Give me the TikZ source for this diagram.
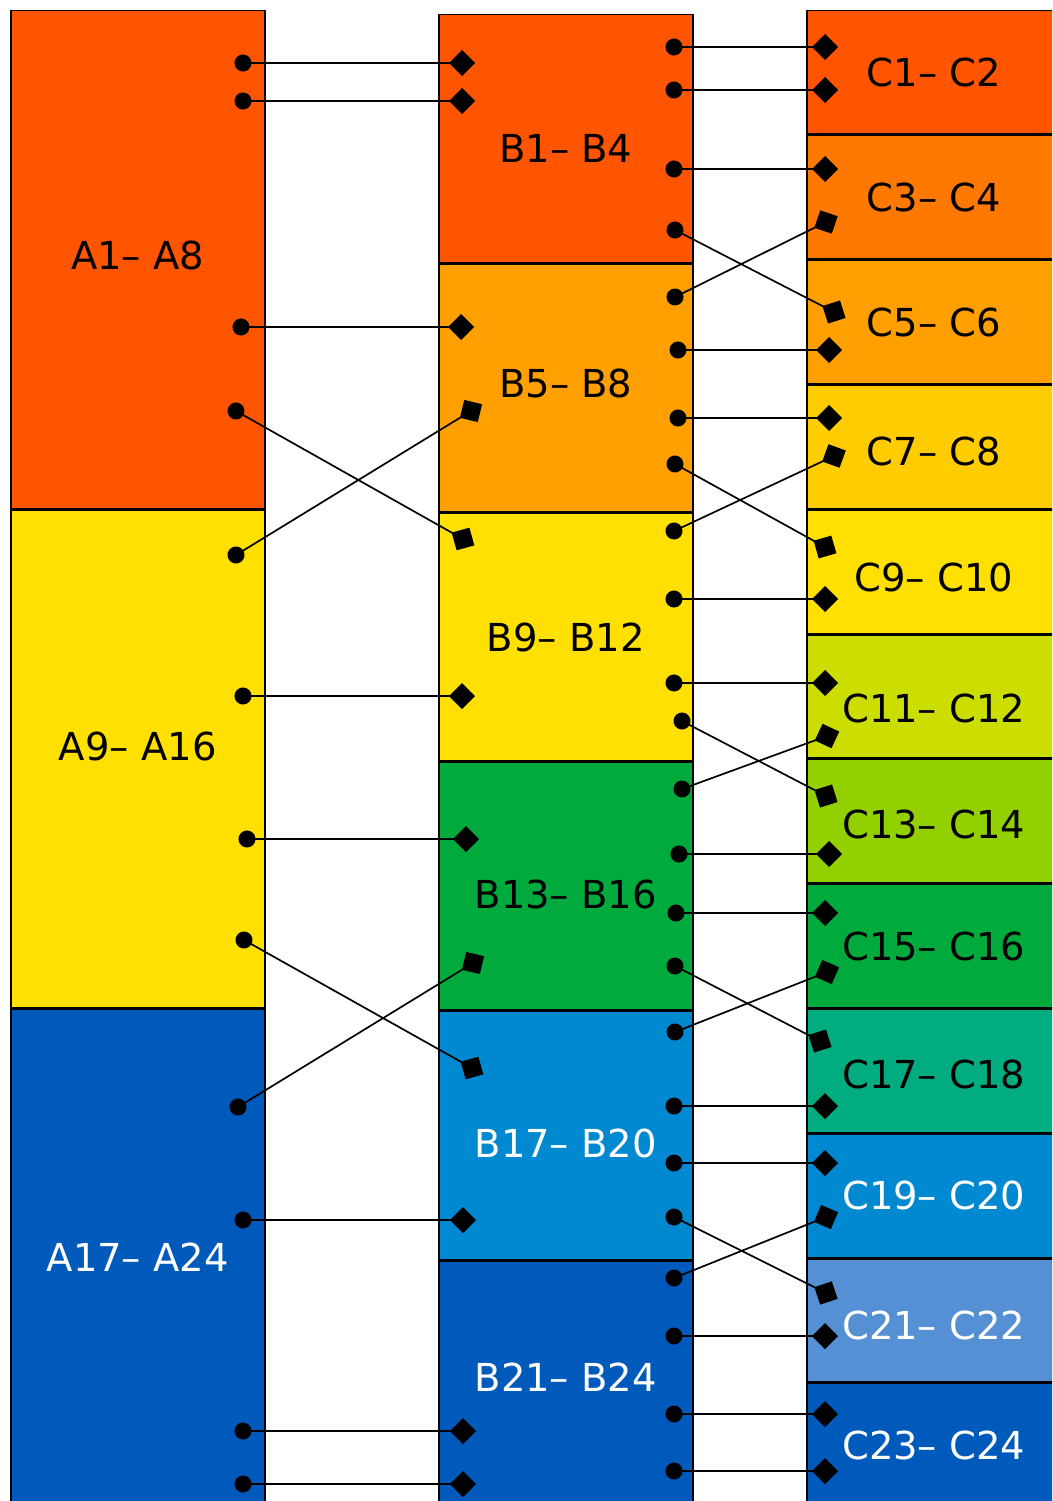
\documentclass[tikz,border=0pt]{standalone}
\usepackage{fontspec}
\setmainfont{DejaVu Sans}
\usepackage{tikz}
\usetikzlibrary{
    arrows.meta,
    positioning
}
\definecolor{redorange}{HTML}{FF5500}
\definecolor{darkorange}{HTML}{FF7800}
\definecolor{amber}{HTML}{FFA000}
\definecolor{gold}{HTML}{FFCC00}
\definecolor{sunyellow}{HTML}{FFE000}
\definecolor{lime}{HTML}{CCDD00}
\definecolor{leafgreen}{HTML}{92D000}
\definecolor{grassgreen}{HTML}{00AA3C}
\definecolor{teal}{HTML}{00AC80}
\definecolor{skyblue}{HTML}{0088D0}
\definecolor{paleblue}{HTML}{5590D5}
\definecolor{deepblue}{HTML}{005ABB}
\tikzstyle{block} = [
    rectangle,
    draw=black,
    line width=1.5pt,
    minimum width=254pt,
    inner sep=0pt,
    text=black,
    font=\fontsize{38.5}{44}\selectfont
]
\tikzstyle{ablock} = [block, minimum height=497.5pt]
\tikzstyle{bblock} = [block, minimum height=247.7pt]
\tikzstyle{cblock} = [block, minimum height=123.3pt]
\tikzstyle{link} = [
    {Circle[length=17pt]}-{Diamond[length=26pt,width=26pt]},
    line width=1.7pt,
    shorten <=-8.5pt,
    shorten >=-13pt
]

\begin{document}
\begin{tikzpicture}[x=1pt, y=-1pt]
    \clip (0,0) rectangle (1052,1501);

    % Column A
    \node[ablock, fill=redorange, text depth=8pt, anchor=north west] (A1) at (10,10) {A1– A8};
    \node[ablock, fill=sunyellow, text depth=24pt, below=0pt of A1] (A9) {A9– A16};
    \node[ablock, fill=deepblue, text=white, below=0pt of A9] (A17) {A17– A24};

    % Column B
    \node[bblock, fill=redorange, text height=48pt, anchor=north west] (B1) at (438,14) {B1– B4};
    \node[bblock, fill=amber, text depth=10pt, below=0pt of B1] (B5) {B5– B8};
    \node[bblock, fill=sunyellow, below=0pt of B5] (B9) {B9– B12};
    \node[bblock, fill=grassgreen, text height=46pt, below=0pt of B9] (B13) {B13– B16};
    \node[bblock, fill=skyblue, text=white, text height=44pt, below=0pt of B13] (B17) {B17– B20};
    \node[bblock, fill=deepblue, text=white, text depth=14pt, below=0pt of B17] (B21) {B21– B24};

    % Column C
    \node[cblock, fill=redorange, anchor=north west] (C1) at (806,10) {C1– C2};
    \node[cblock, fill=darkorange, below=0pt of C1] (C3) {C3– C4};
    \node[cblock, fill=amber, below=0pt of C3] (C5) {C5– C6};
    \node[cblock, fill=gold, text height=38pt, below=0pt of C5] (C7) {C7– C8};
    \node[cblock, fill=sunyellow, text height=40pt, below=0pt of C7] (C9) {C9– C10};
    \node[cblock, fill=lime, text height=52pt, below=0pt of C9] (C11) {C11– C12};
    \node[cblock, fill=leafgreen, text height=36pt, below=0pt of C11] (C13) {C13– C14};
    \node[cblock, fill=grassgreen, below=0pt of C13] (C15) {C15– C16};
    \node[cblock, fill=teal, text height=36pt, below=0pt of C15] (C17) {C17– C18};
    \node[cblock, fill=skyblue, text=white, below=0pt of C17] (C19) {C19– C20};
    \node[cblock, fill=paleblue, text=white, text height=38pt, below=0pt of C19] (C21) {C21– C22};
    \node[cblock, fill=deepblue, text=white, below=0pt of C21] (C23) {C23– C24};

    % Pins A -> B
    \foreach \n/\x/\y in {1/243/63, 2/243/101, 3/241/327, 4/236/411, 5/236/555, 6/243/696,
        7/247/839, 8/244/940, 9/238/1107, 10/243/1220, 11/243/1431, 12/243/1484}
        \coordinate (aout\n) at (\x,\y);
    \foreach \n/\x/\y in {1/462/63, 2/462/101, 3/461/327, 4/471/411, 5/463/539, 6/462/696,
        7/466/839, 8/473/963, 9/472/1068, 10/463/1220, 11/463/1431, 12/463/1484}
        \coordinate (bin\n) at (\x,\y);

    % Pins B -> C
    \foreach \n/\x/\y in {1/674/47, 2/674/90, 3/674/169, 4/675/230, 5/675/297, 6/678/350,
        7/678/418, 8/675/464, 9/674/531, 10/674/599, 11/674/683, 12/682/721,
        13/682/789, 14/679/854, 15/676/913, 16/675/966, 17/675/1032, 18/674/1106,
        19/674/1163, 20/674/1217, 21/674/1278, 22/674/1336, 23/674/1414, 24/674/1471}
        \coordinate (bout\n) at (\x,\y);
    \foreach \n/\x/\y in {1/825/47, 2/825/90, 3/825/169, 4/826/222, 5/834/312, 6/829/350,
        7/829/418, 8/834/456, 9/825/547, 10/825/599, 11/825/683, 12/827/736,
        13/826/796, 14/829/854, 15/825/913, 16/827/972, 17/820/1041, 18/825/1106,
        19/825/1163, 20/826/1217, 21/826/1293, 22/825/1336, 23/825/1414, 24/825/1471}
        \coordinate (cin\n) at (\x,\y);

    % Links
    \foreach \s/\t in {aout1/bin1, aout2/bin2, aout3/bin3, aout4/bin5, aout5/bin4, aout6/bin6,
        aout7/bin7, aout8/bin9, aout9/bin8, aout10/bin10, aout11/bin11, aout12/bin12}
        \draw[link] (\s) -- (\t);
    \foreach \s/\t in {bout1/cin1, bout2/cin2, bout3/cin3, bout4/cin5, bout5/cin4, bout6/cin6,
        bout7/cin7, bout8/cin9, bout9/cin8, bout10/cin10, bout11/cin11, bout12/cin13,
        bout13/cin12, bout14/cin14, bout15/cin15, bout16/cin17, bout17/cin16, bout18/cin18,
        bout19/cin19, bout20/cin21, bout21/cin20, bout22/cin22, bout23/cin23, bout24/cin24}
        \draw[link] (\s) -- (\t);
\end{tikzpicture}
\end{document}
